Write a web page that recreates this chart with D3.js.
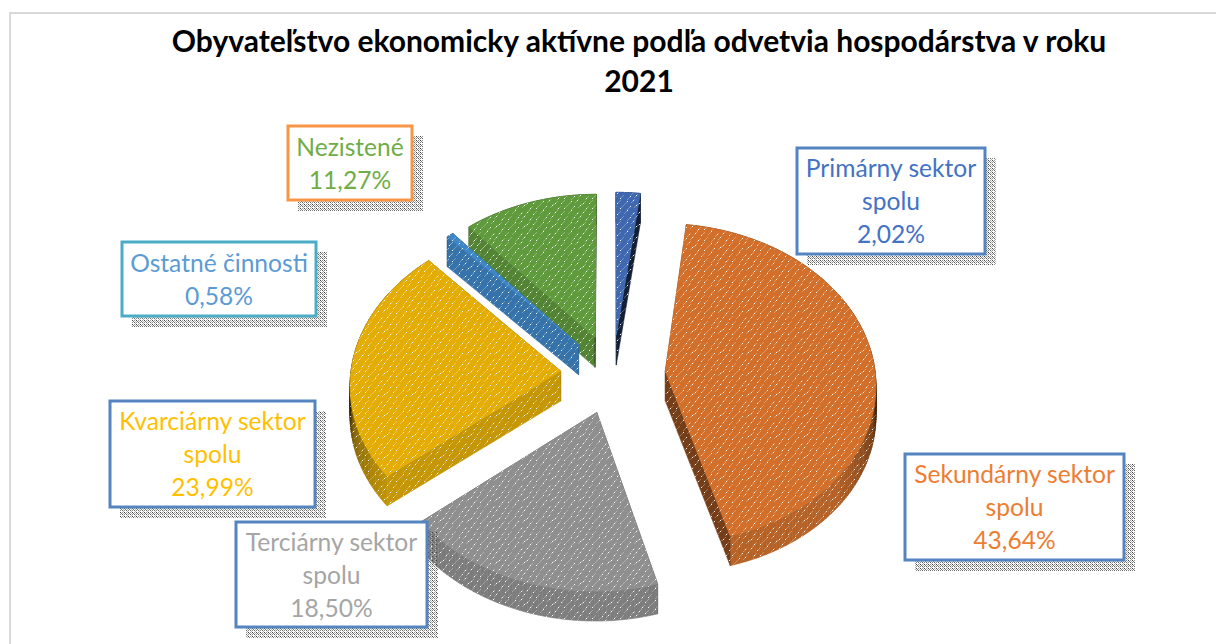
<!DOCTYPE html>
<html><head><meta charset="utf-8">
<script src="https://cdn.jsdelivr.net/npm/d3@7/dist/d3.min.js"></script>
<style>html,body{margin:0;padding:0;background:#fff;overflow:hidden}svg{display:block}text{font-family:Lato,"Open Sans",sans-serif}</style>
</head><body><div id="chart"></div>
<script>
const titleLines = ["Obyvateľstvo ekonomicky aktívne podľa odvetvia hospodárstva v roku", "2021"];
const categories = ["Primárny sektor spolu","Sekundárny sektor spolu","Terciárny sektor spolu","Kvarciárny sektor spolu","Ostatné činnosti","Nezistené"];
const values = [2.02, 43.64, 18.50, 23.99, 0.58, 11.27];
const labelLines = [["Primárny sektor","spolu"],["Sekundárny sektor","spolu"],["Terciárny sektor","spolu"],["Kvarciárny sektor","spolu"],["Ostatné činnosti"],["Nezistené"]];
const faceColors = ["#3F68B0","#D2702B","#8F8F8F","#E4AD06","#3F86C6","#5F9A3C"];
const textColors = ["#4472C4","#ED7D31","#A5A5A5","#FFC000","#5B9BD5","#70AD47"];
const borderColors = ["#5585C0","#5585C0","#5585C0","#5585C0","#4BACC6","#F79646"];
// label boxes: left, top, right, bottom
const boxes = [[797,148,985,254],[905,454,1124,560],[236,522,427,627],[110,401,315,507],[122,242,316,316],[288,126,412,200]];
const drawOrder = [5,4,0,1,3,2];

const W=1216,H=644;
const cx=613, cy=374, Rx=210, Ry=159, persp=0.075, explode=0.25, depth=30;

const svg=d3.select("#chart").append("svg").attr("width",W).attr("height",H);
const defs=svg.append("defs");

// speckled surface texture: short rising dashes, pale with a few bright pixels
const TW=28,TH=21;
const tex=defs.append("pattern").attr("id","tex").attr("patternUnits","userSpaceOnUse").attr("width",TW).attr("height",TH);
const dashes=[[1,4],[8,3],[15,5],[22,3],[4,9],[11,10],[18,8],[25,10],[1,14],[8,15],[15,13],[22,15],[4,19],[11,20],[18,18],[25,20]];
dashes.forEach(([x,y],i)=>{
  d3.range(4).forEach(k=>{
    tex.append("rect").attr("x",(x+k)%TW).attr("y",(y-k+TH)%TH).attr("width",1).attr("height",1)
      .attr("fill","#fff").attr("opacity",k===(i*3)%4?0.95:0.28);
  });
});
// stippled label shadow
const sh=defs.append("pattern").attr("id","shadow").attr("patternUnits","userSpaceOnUse").attr("width",4).attr("height",4);
[[0,0,"#444"],[2,2,"#666"],[2,0,"#999"],[0,2,"#888"],[1,1,"#777"],[3,3,"#aaa"],[3,1,"#bbb"]].forEach(([x,y,c])=>sh.append("rect").attr("x",x).attr("y",y).attr("width",1).attr("height",1).attr("fill",c));

// frame
svg.append("path").attr("d",`M10,${H}V13H${W}`).attr("fill","none").attr("stroke","#d9d9d9").attr("stroke-width",2);

// title
svg.append("g").selectAll("text").data(titleLines).join("text")
  .attr("x",639).attr("y",(d,i)=>52+i*40).attr("text-anchor","middle")
  .attr("font-size",30).attr("font-weight",700).attr("fill","#000").text(d=>d);

const pie=d3.pie().sort(null).value(d=>d).startAngle(0).endAngle(2*Math.PI);
const arcs=pie(values);

function project(a,m,r){
  const u=explode*Math.sin(m)+r*Math.sin(a), v=explode*Math.cos(m)+r*Math.cos(a);
  const s=1/(1+persp*v);
  return [cx+Rx*u*s, cy-Ry*v*s];
}
const line=d3.line();
const down=p=>[p[0],p[1]+depth];
const shade=d3.scaleLinear().domain([0,50,75,85,180]).range([.88,.86,.55,.22,.22]).clamp(true);
const fromFront=a=>Math.abs(a-Math.PI)*180/Math.PI;
const tint=(c,k)=>d3.interpolateRgb("#000",c)(k);

const pieG=svg.append("g");
drawOrder.forEach(i=>{
  const d=arcs[i], col=faceColors[i], m=(d.startAngle+d.endAngle)/2;
  const g=pieG.append("g");
  const n=Math.max(2,Math.ceil((d.endAngle-d.startAngle)/(Math.PI/180)));
  const angles=d3.range(n+1).map(k=>d.startAngle+(d.endAngle-d.startAngle)*k/n);
  const rim=angles.map(a=>project(a,m,1));
  const apex=project(0,m,0);
  const face=[apex,...rim];
  const mid=project(m,m,.6);

  const radial=(corner,normal)=>{
    const e=[corner[0]-apex[0],corner[1]-apex[1]];
    const inner=e[0]*(mid[1]-apex[1])-e[1]*(mid[0]-apex[0]);
    return {poly:[apex,corner,down(corner),down(apex)],visible:inner*e[0]<0,normal};
  };
  const walls=[radial(rim[0],d.startAngle-Math.PI/2),radial(rim[n],d.endAngle+Math.PI/2)];
  const norm=a=>((a%(2*Math.PI))+2*Math.PI)%(2*Math.PI);
  walls.filter(w=>!w.visible).forEach(w=>{
    const c=tint(col,.4);
    g.append("path").attr("d",line(w.poly)+"Z").attr("fill",c).attr("stroke",c).attr("stroke-width",.5);
  });
  rim.slice(0,-1).forEach((p,k)=>{
    const c=tint(col,shade(fromFront(angles[k])));
    g.append("path").attr("d",line([p,rim[k+1],down(rim[k+1]),down(p)])+"Z").attr("fill",c).attr("stroke",c).attr("stroke-width",.6);
  });
  walls.filter(w=>w.visible).forEach(w=>{
    const c=tint(col,shade(fromFront(norm(w.normal))));
    g.append("path").attr("d",line(w.poly)+"Z").attr("fill",c).attr("stroke",c).attr("stroke-width",.5);
  });
  const outer=[...rim,...rim.slice().reverse().map(down)];
  g.append("path").attr("d",line(outer)+"Z").attr("fill","url(#tex)");
  walls.filter(w=>w.visible).forEach(w=>g.append("path").attr("d",line(w.poly)+"Z").attr("fill","url(#tex)"));
  g.append("path").attr("d",line(face)+"Z").attr("fill",col).attr("stroke",col).attr("stroke-width",.8);
  g.append("path").attr("d",line(face)+"Z").attr("fill","url(#tex)");
});

// labels
const fmt=d3.format(".2f");
const labels=svg.append("g");
categories.forEach((cat,i)=>{
  const [x0,y0,x1,y1]=boxes[i];
  const g=labels.append("g").attr("data-category",cat);
  g.append("path").attr("d",`M${x0+10},${y1}V${y1+11}H${x1+11}V${y0+10}H${x1}V${y1}Z`).attr("fill","url(#shadow)");
  g.append("rect").attr("x",x0).attr("y",y0).attr("width",x1-x0).attr("height",y1-y0)
    .attr("fill","#fff").attr("stroke",borderColors[i]).attr("stroke-width",3);
  const lines=[...labelLines[i],fmt(values[i]).replace(".",",")+"%"];
  const mx=(x0+x1)/2, lh=33;
  const base=(y0+y1)/2-(lines.length-1)*lh/2+9;
  g.selectAll("text").data(lines).join("text")
    .attr("x",mx).attr("y",(d,k)=>base+k*lh).attr("text-anchor","middle")
    .attr("font-size",24.6).attr("fill",textColors[i]).text(d=>d);
});
</script></body></html>
